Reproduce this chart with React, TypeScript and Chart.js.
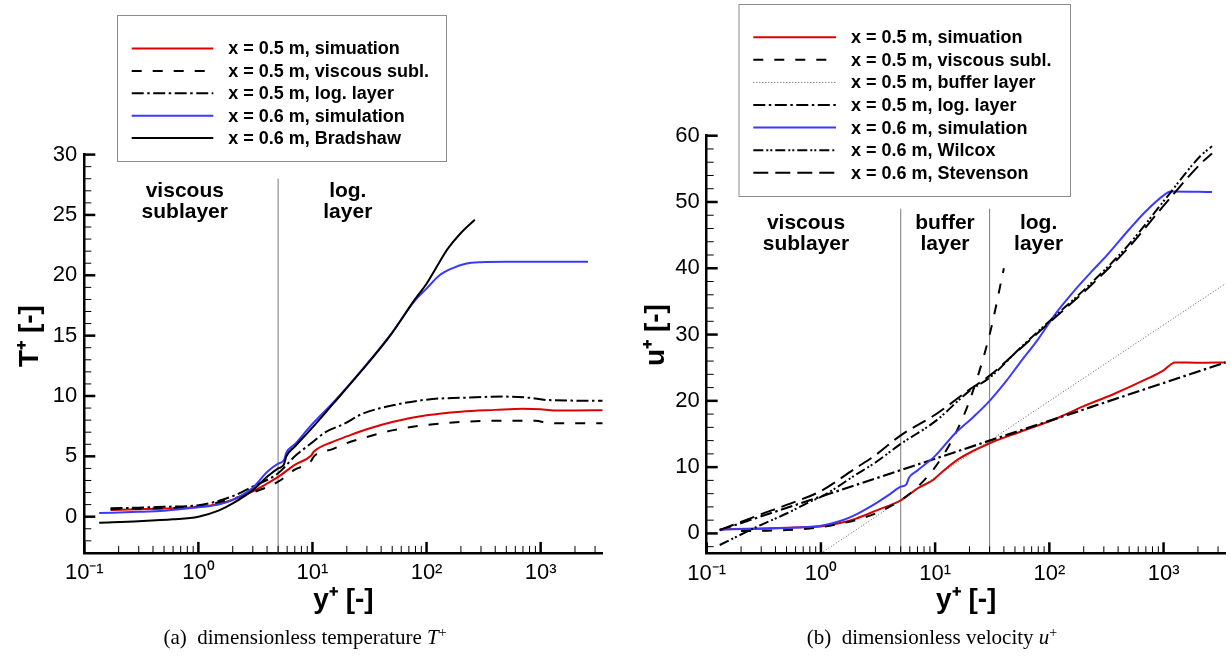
import React, { useEffect, useRef } from "react";
import { Chart, registerables } from "chart.js";

Chart.register(...registerables);

const SANS = "'Liberation Sans', Arial, Helvetica, sans-serif";
const SERIF = "'Liberation Serif', 'Times New Roman', serif";

// ---------------- shared x axis (y+) ----------------
const xTickValues = [0.1, 1, 10, 100, 1000];
const xTickLabels = ["10⁻¹", "10⁰", "10¹", "10²", "10³"];
const yPlusMin = 0.1;
const yPlusMax = 3500;
const xTitle = "y⁺ [-]";

// ---------------- panel (a): T+ ----------------
const tTickValues = [0, 5, 10, 15, 20, 25, 30];
const tLabels = [
  "x = 0.5 m, simuation",
  "x = 0.5 m, viscous subl.",
  "x = 0.5 m, log. layer",
  "x = 0.6 m, simulation",
  "x = 0.6 m, Bradshaw",
];
const tSim05X = [0.17, 0.3, 0.5, 1, 1.5, 2, 3, 4, 5, 7, 9.7, 10.3, 15, 20, 30, 50, 100, 200, 400, 700, 1000, 1300, 2000, 3500];
const tSim05V = [0.55, 0.62, 0.68, 0.8, 1.05, 1.4, 2.1, 2.75, 3.3, 4.3, 5.05, 5.4, 6.2, 6.65, 7.25, 7.85, 8.4, 8.7, 8.85, 8.95, 8.9, 8.8, 8.8, 8.82];
const tVisc05X = [0.17, 0.3, 0.5, 1, 2, 3, 5, 7, 9.7, 10.3, 15, 20, 30, 50, 100, 200, 500, 900, 1200, 3500];
const tVisc05V = [0.62, 0.66, 0.7, 0.85, 1.5, 2.0, 2.9, 3.9, 4.6, 5.0, 5.6, 6.1, 6.6, 7.15, 7.6, 7.85, 7.95, 7.95, 7.75, 7.74];
const tLog05X = [0.17, 0.3, 0.5, 1, 2, 3, 5, 7, 9.8, 13, 19, 27, 55, 113, 200, 480, 800, 1130, 3500];
const tLog05V = [0.7, 0.75, 0.82, 0.95, 1.7, 2.5, 3.6, 5.0, 6.1, 7.0, 7.7, 8.5, 9.3, 9.75, 9.85, 9.95, 9.85, 9.67, 9.6];
const tSim06X = [0.135, 0.3, 0.5, 1, 1.5, 2, 3, 4, 5, 5.6, 5.9, 7, 9.8, 15, 27, 48, 79, 100, 130, 170, 220, 300, 500, 2600];
const tSim06V = [0.3, 0.4, 0.5, 0.78, 1.0, 1.4, 2.4, 3.7, 4.4, 4.65, 5.3, 6.0, 7.6, 9.4, 12.15, 15.05, 17.9, 18.9, 20.0, 20.6, 20.95, 21.08, 21.12, 21.12];
const tBrad06X = [0.135, 0.3, 0.6, 1, 1.5, 2, 3, 4, 5, 5.6, 5.9, 7, 9.8, 15, 27, 48, 79, 100, 130, 151, 200, 265];
const tBrad06V = [-0.5, -0.38, -0.22, 0.0, 0.5, 1.1, 2.2, 3.3, 4.0, 4.3, 5.0, 5.8, 7.3, 9.3, 12.1, 15.0, 18.0, 19.3, 21.1, 22.1, 23.5, 24.6];
const tDividerX = [5];
const tDividerSpan = [-3, 28];
const tZoneText = [["viscous", "sublayer"], ["log.", "layer"]];
const tZoneAt = [{ x: 0.76, y: 26.5 }, { x: 20.4, y: 26.5 }];
const tTitle = "T⁺ [-]";

// ---------------- panel (b): u+ ----------------
const uTickValues = [0, 10, 20, 30, 40, 50, 60];
const uLabels = [
  "x = 0.5 m, simuation",
  "x = 0.5 m, viscous subl.",
  "x = 0.5 m, buffer layer",
  "x = 0.5 m, log. layer",
  "x = 0.6 m, simulation",
  "x = 0.6 m, Wilcox",
  "x = 0.6 m, Stevenson",
];
const uSim05X = [0.13, 0.3, 0.6, 1, 1.5, 2, 3, 5, 7.2, 9.6, 10.4, 16, 30, 55, 114, 200, 363, 713, 1000, 1260, 2000, 3500];
const uSim05V = [0.6, 0.75, 0.9, 1.05, 1.6, 2.2, 3.4, 5.0, 6.9, 8.05, 8.6, 11.2, 13.6, 15.3, 17.3, 19.2, 21.0, 23.3, 24.6, 25.8, 25.75, 25.8];
const uVisc05X = [0.2, 0.3, 0.5, 0.8, 1, 1.5, 2, 3, 5, 7, 10, 15, 20, 30, 40];
const uVisc05V = [0.35, 0.4, 0.5, 0.75, 0.95, 1.5, 2, 3, 5, 7, 10, 15, 20, 30, 40];
const uBuf05X = [1, 3500];
const uBuf05V = [-3, 37.7];
const uLog05X = [0.13, 3500];
const uLog05V = [0.5, 25.8];
const uSim06X = [0.13, 0.3, 0.6, 1, 1.5, 2, 3, 4, 5, 5.6, 5.9, 7, 10, 14.8, 21.4, 30, 42, 55, 79, 114, 165, 237, 317, 508, 700, 1000, 1150, 2660];
const uSim06V = [0.6, 0.7, 0.9, 1.16, 1.9, 2.8, 4.5, 5.9, 7.05, 7.4, 8.4, 9.5, 11.7, 15.0, 17.5, 20.0, 23.0, 25.7, 29.2, 33.2, 36.6, 39.6, 41.9, 46.0, 48.6, 51.0, 51.6, 51.5];
const uWil06X = [0.13, 0.3, 0.5, 0.83, 1, 2, 3, 5, 10, 20, 30, 55, 100, 237, 492, 1020, 2120, 2660];
const uWil06V = [-1.75, 1.3, 3.0, 4.9, 5.5, 8.8, 10.7, 13.5, 16.9, 21.5, 23.5, 27.9, 32.0, 37.9, 43.5, 50.3, 57.0, 58.4];
const uStev06X = [0.13, 0.3, 0.5, 1, 2, 3, 5, 10, 20, 30, 55, 100, 237, 492, 1020, 2120, 2660];
const uStev06V = [0.5, 2.9, 4.3, 6.4, 9.8, 11.8, 14.8, 17.9, 21.7, 23.8, 27.8, 31.8, 37.6, 43.1, 49.6, 55.8, 57.3];
const uDividerX = [5, 30];
const uDividerSpan = [-3, 49];
const uZoneText = [["viscous", "sublayer"], ["buffer", "layer"], ["log.", "layer"]];
const uZoneAt = [{ x: 0.74, y: 45.9 }, { x: 12.2, y: 45.9 }, { x: 80.5, y: 45.9 }];
const uTitle = "u⁺ [-]";

// ---------------- styles ----------------
const RED = "#dd0000";
const BLUE = "#3a3aff";
const BLACK = "#000000";
const DASH = [10, 11];
const DASHDOT = [12, 3.5, 2.5, 3.5];
const DASHDOTDOT = [10, 3, 2, 2, 2, 3];
const LONGDASH = [15, 7];
const DOTTED = [1, 2];

const pts = (xs: number[], vs: number[]) => xs.map((x, i) => ({ x, y: vs[i] }));

type Series = { label: string; xs: number[]; vs: number[]; color: string; width: number; dash: number[]; smooth: boolean };

function buildDatasets(series: Series[], dividers: number[], span: number[]) {
  const n = series.length;
  const ds: any[] = dividers.map((d) => ({
    data: pts([d, d], span),
    borderColor: "#7a7a7a",
    borderWidth: 1,
    pointRadius: 0,
    order: 100,
    inLegend: false,
  }));
  series.forEach((s, i) => {
    ds.push({
      label: s.label,
      data: pts(s.xs, s.vs),
      borderColor: s.color,
      borderWidth: s.width,
      borderDash: s.dash,
      pointRadius: 0,
      cubicInterpolationMode: s.smooth ? "monotone" : "default",
      tension: 0,
      order: n - i,
      inLegend: true,
    });
  });
  return ds;
}

type PanelSpec = {
  series: Series[];
  dividers: number[];
  span: number[];
  yMax: number;
  yTicks: number[];
  yMinor: number;
  yMajor: number;
  yTitle: string;
  yTitleAt: number[];
  canvasW: number;
  yAxisW: number;
  padRight: number;
  padTop: number;
  padBottom: number;
  xTitlePad: number;
  legendBox: number[];
  legendRow0: number;
  legendStep: number;
  sampleX: number[];
  textX: number;
  zoneText: string[][];
  zoneAt: { x: number; y: number }[];
};

function makeDecor(spec: PanelSpec) {
  return {
    id: "decor",
    afterDraw(chart: any) {
      const { ctx, chartArea: a } = chart;
      const xs = chart.scales.x;
      const ys = chart.scales.y;
      ctx.save();
      ctx.strokeStyle = "#000";
      ctx.setLineDash([]);
      // x ticks (inward)
      for (let d = -1; d <= 3; d++) {
        for (let m = 1; m <= 9; m++) {
          const v = m * Math.pow(10, d);
          if (v < xs.min * 0.999 || v > xs.max) continue;
          const px = xs.getPixelForValue(v);
          const major = m === 1;
          ctx.lineWidth = major ? 2.5 : 1;
          ctx.beginPath();
          ctx.moveTo(px, a.bottom);
          ctx.lineTo(px, a.bottom - (major ? 11 : 7));
          ctx.stroke();
        }
      }
      // y ticks (inward)
      const start = Math.ceil(ys.min / spec.yMinor) * spec.yMinor;
      for (let v = start; v <= ys.max + 1e-9; v += spec.yMinor) {
        const py = ys.getPixelForValue(v);
        const major = Math.abs(v / spec.yMajor - Math.round(v / spec.yMajor)) < 1e-9;
        ctx.lineWidth = major ? 2.5 : 1;
        ctx.beginPath();
        ctx.moveTo(a.left, py);
        ctx.lineTo(a.left + (major ? 11 : 7), py);
        ctx.stroke();
      }
      // y axis title (rotated)
      ctx.fillStyle = "#000";
      ctx.font = `bold 28px ${SANS}`;
      ctx.textAlign = "center";
      ctx.textBaseline = "middle";
      ctx.save();
      ctx.translate(spec.yTitleAt[0], spec.yTitleAt[1]);
      ctx.rotate(-Math.PI / 2);
      ctx.fillText(spec.yTitle, 0, 0);
      ctx.restore();
      // zone labels
      ctx.font = `bold 21px ${SANS}`;
      ctx.textAlign = "center";
      ctx.textBaseline = "alphabetic";
      spec.zoneText.forEach((lines, i) => {
        const px = xs.getPixelForValue(spec.zoneAt[i].x);
        const py = ys.getPixelForValue(spec.zoneAt[i].y);
        lines.forEach((t, j) => ctx.fillText(t, px, py + j * 21));
      });
      // legend
      const [bx0, by0, bx1, by1] = spec.legendBox;
      ctx.fillStyle = "#fff";
      ctx.fillRect(bx0, by0, bx1 - bx0, by1 - by0);
      ctx.strokeStyle = "#8c8c8c";
      ctx.lineWidth = 1;
      ctx.strokeRect(bx0 + 0.5, by0 + 0.5, bx1 - bx0, by1 - by0);
      const items = chart.data.datasets.filter((d: any) => d.inLegend);
      ctx.font = `bold 18px ${SANS}`;
      ctx.textAlign = "left";
      ctx.textBaseline = "middle";
      items.forEach((d: any, i: number) => {
        const y = spec.legendRow0 + i * spec.legendStep;
        ctx.strokeStyle = d.borderColor;
        ctx.lineWidth = d.borderWidth;
        ctx.setLineDash(d.borderDash || []);
        ctx.beginPath();
        ctx.moveTo(spec.sampleX[0], y);
        ctx.lineTo(spec.sampleX[1], y);
        ctx.stroke();
        ctx.setLineDash([]);
        ctx.fillStyle = "#000";
        ctx.fillText(d.label, spec.textX, y + 1);
      });
      ctx.restore();
    },
  };
}

function buildConfig(spec: PanelSpec): any {
  return {
    type: "line",
    data: { datasets: buildDatasets(spec.series, spec.dividers, spec.span) },
    options: {
      responsive: false,
      animation: false,
      devicePixelRatio: 1,
      events: [],
      layout: { padding: { left: 0, right: spec.padRight, top: spec.padTop, bottom: spec.padBottom } },
      plugins: { legend: { display: false }, tooltip: { enabled: false }, title: { display: false } },
      elements: { point: { radius: 0 }, line: { borderCapStyle: "butt" } },
      scales: {
        x: {
          type: "logarithmic",
          min: yPlusMin,
          max: yPlusMax,
          grid: { display: false, drawTicks: false },
          border: { display: true, color: "#000", width: 2.5 },
          ticks: {
            autoSkip: false,
            maxRotation: 0,
            padding: 7,
            color: "#000",
            font: { family: SANS, size: 22 },
            callback: (v: number) => {
              const i = xTickValues.findIndex((t) => Math.abs(t - v) < 1e-9 * Math.max(1, t));
              return i >= 0 ? xTickLabels[i] : "";
            },
          },
          afterBuildTicks: (s: any) => {
            s.ticks = xTickValues.map((v) => ({ value: v }));
          },
          afterFit: (s: any) => {
            s.height = 65;
          },
          title: {
            display: true,
            text: xTitle,
            color: "#000",
            font: { family: SANS, size: 28, weight: "bold" },
            padding: { top: 0, bottom: spec.xTitlePad },
          },
        },
        y: {
          type: "linear",
          min: -3,
          max: spec.yMax,
          grid: { display: false, drawTicks: false },
          border: { display: true, color: "#000", width: 2.5 },
          ticks: {
            padding: 7,
            color: "#000",
            font: { family: SANS, size: 22 },
          },
          afterBuildTicks: (s: any) => {
            s.ticks = spec.yTicks.map((v) => ({ value: v }));
          },
          afterFit: (s: any) => {
            s.width = spec.yAxisW;
          },
          title: { display: false },
        },
      },
    },
    plugins: [makeDecor(spec)],
  };
}

const tSeries: Series[] = [
  { label: tLabels[0], xs: tSim05X, vs: tSim05V, color: RED, width: 2, dash: [], smooth: true },
  { label: tLabels[1], xs: tVisc05X, vs: tVisc05V, color: BLACK, width: 2, dash: DASH, smooth: true },
  { label: tLabels[2], xs: tLog05X, vs: tLog05V, color: BLACK, width: 2, dash: DASHDOT, smooth: true },
  { label: tLabels[3], xs: tSim06X, vs: tSim06V, color: BLUE, width: 2, dash: [], smooth: true },
  { label: tLabels[4], xs: tBrad06X, vs: tBrad06V, color: BLACK, width: 2, dash: [], smooth: true },
];

const uSeries: Series[] = [
  { label: uLabels[0], xs: uSim05X, vs: uSim05V, color: RED, width: 2, dash: [], smooth: true },
  { label: uLabels[1], xs: uVisc05X, vs: uVisc05V, color: BLACK, width: 2, dash: DASH, smooth: true },
  { label: uLabels[2], xs: uBuf05X, vs: uBuf05V, color: "#5a5a5a", width: 1, dash: DOTTED, smooth: false },
  { label: uLabels[3], xs: uLog05X, vs: uLog05V, color: BLACK, width: 2.2, dash: DASHDOT, smooth: false },
  { label: uLabels[4], xs: uSim06X, vs: uSim06V, color: BLUE, width: 2, dash: [], smooth: true },
  { label: uLabels[5], xs: uWil06X, vs: uWil06V, color: BLACK, width: 2, dash: DASHDOTDOT, smooth: true },
  { label: uLabels[6], xs: uStev06X, vs: uStev06V, color: BLACK, width: 2, dash: LONGDASH, smooth: true },
];

const specA: PanelSpec = {
  series: tSeries,
  dividers: tDividerX,
  span: tDividerSpan,
  yMax: 30,
  yTicks: tTickValues,
  yMinor: 1,
  yMajor: 5,
  yTitle: tTitle,
  yTitleAt: [30, 336],
  canvasW: 620,
  yAxisW: 84.3,
  padRight: 17.3,
  padTop: 154.6,
  padBottom: 41.1,
  xTitlePad: 1,
  legendBox: [117, 15, 446, 161],
  legendRow0: 48.5,
  legendStep: 22.4,
  sampleX: [131.7, 213.3],
  textX: 228.3,
  zoneText: tZoneText,
  zoneAt: tZoneAt,
};

const specB: PanelSpec = {
  series: uSeries,
  dividers: uDividerX,
  span: uDividerSpan,
  yMax: 60,
  yTicks: uTickValues,
  yMinor: 2,
  yMajor: 10,
  yTitle: uTitle,
  yTitleAt: [36, 335],
  canvasW: 611,
  yAxisW: 86.7,
  padRight: 5.3,
  padTop: 135.7,
  padBottom: 40.7,
  xTitlePad: 1.4,
  legendBox: [118.5, 4, 450, 196],
  legendRow0: 37.3,
  legendStep: 22.57,
  sampleX: [133.3, 216],
  textX: 231,
  zoneText: uZoneText,
  zoneAt: uZoneAt,
};

function Panel({ spec, left }: { spec: PanelSpec; left: number }) {
  const ref = useRef<HTMLCanvasElement>(null);
  useEffect(() => {
    const chart = new Chart(ref.current as HTMLCanvasElement, buildConfig(spec));
    return () => chart.destroy();
  }, []);
  return (
    <canvas
      ref={ref}
      width={spec.canvasW}
      height={659}
      style={{ position: "absolute", left, top: 0, width: spec.canvasW, height: 659 }}
    />
  );
}

const captionStyle: React.CSSProperties = {
  position: "absolute",
  top: 624,
  fontFamily: SERIF,
  fontSize: 21,
  lineHeight: "26px",
  textAlign: "center",
  color: "#000",
  whiteSpace: "nowrap",
};

export default function App() {
  return (
    <div style={{ position: "absolute", left: 0, top: 0, width: 1231, height: 659, background: "#fff", overflow: "hidden" }}>
      <Panel spec={specA} left={0} />
      <Panel spec={specB} left={620} />
      <div style={{ ...captionStyle, left: 0, width: 610 }}>
        (a)&nbsp; dimensionless temperature <i>T</i>
        <sup style={{ fontSize: 14, verticalAlign: "7px", lineHeight: 0 }}>+</sup>
      </div>
      <div style={{ ...captionStyle, left: 620, width: 624 }}>
        (b)&nbsp; dimensionless velocity <i>u</i>
        <sup style={{ fontSize: 14, verticalAlign: "7px", lineHeight: 0 }}>+</sup>
      </div>
    </div>
  );
}
